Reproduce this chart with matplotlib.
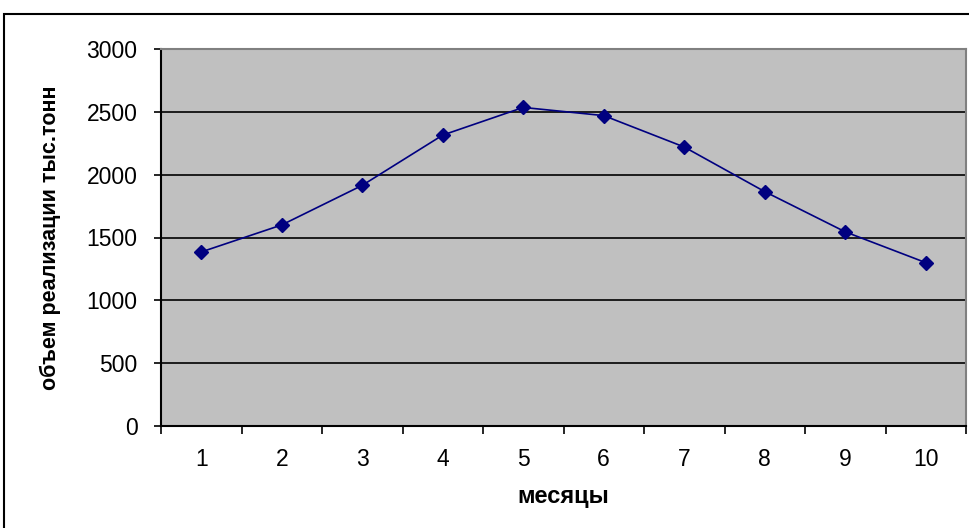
import numpy as np
from matplotlib import pyplot as plt
from matplotlib.patches import Rectangle

plt.rcParams['font.family'] = ['Liberation Sans', 'DejaVu Sans']

months = ['1', '2', '3', '4', '5', '6', '7', '8', '9', '10']
volume = [1385, 1600, 1915, 2315, 2535, 2470, 2220, 1865, 1545, 1300]
y_ticks = [0, 500, 1000, 1500, 2000, 2500, 3000]

fig = plt.figure(figsize=(9.69, 5.28), dpi=100)
ax = fig.add_axes([161 / 969, 1 - 426 / 528, 805 / 969, 377 / 528])
ax.set_facecolor('#C0C0C0')

x = np.arange(len(months))
ax.plot(x, volume, color='#000080', lw=1.2, marker='D', ms=7, zorder=3)

ax.set_xlim(-0.5, len(months) - 0.5)
ax.set_ylim(0, 3000)
ax.set_yticks(y_ticks)
ax.set_xticks(x)
ax.set_xticklabels(months)
ax.set_xticks(np.arange(-0.5, len(months)), minor=True)
ax.tick_params(axis='x', which='major', length=0, labelsize=16.5, pad=16)
ax.tick_params(axis='x', which='minor', length=6, width=1.2, direction='out')
ax.tick_params(axis='y', length=5, width=1.2, labelsize=16.5, pad=12)

ax.yaxis.grid(True, color='black', lw=1.2)
ax.set_axisbelow(True)
for s in ['left', 'bottom']:
    ax.spines[s].set_color('black')
    ax.spines[s].set_linewidth(1.5)
for s in ['top', 'right']:
    ax.spines[s].set_color('#808080')
    ax.spines[s].set_linewidth(1.5)

ax.set_xlabel('месяцы', fontsize=17, fontweight='bold')
ax.set_ylabel('объем реализации тыс.тонн', fontsize=15.5, fontweight='bold')
ax.xaxis.set_label_coords(0.5, -0.188)
ax.yaxis.set_label_coords(-0.138, 0.5)
ax.xaxis.label.set_va('center')
ax.yaxis.label.set_va('center')

# outer chart frame
fig.patches.append(Rectangle((4 / 969, -0.2), 1.2, 1.2 - 14 / 528, transform=fig.transFigure,
                             fill=False, edgecolor='black', lw=1.5))

fig.savefig('out.png', dpi=100)
